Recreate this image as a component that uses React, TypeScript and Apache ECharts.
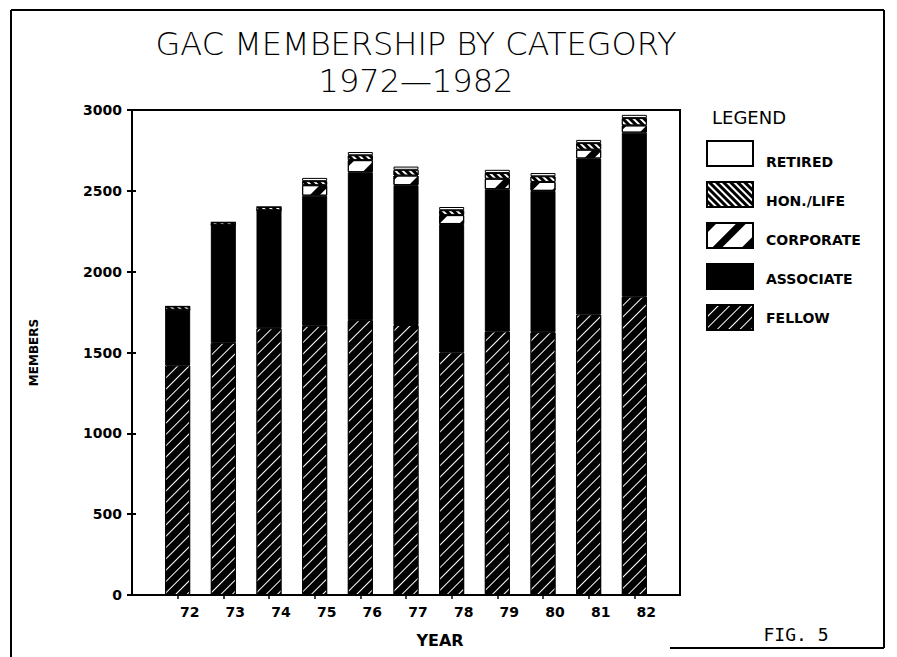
import React, { useEffect, useRef } from "react";
import * as echarts from "echarts";

const years = ["72", "73", "74", "75", "76", "77", "78", "79", "80", "81", "82"];
const fellow = [1420, 1560, 1650, 1665, 1700, 1670, 1500, 1630, 1625, 1735, 1845];
const associate = [345, 730, 730, 805, 915, 865, 795, 880, 875, 965, 1015];
const corporate = [0, 0, 0, 65, 75, 60, 55, 65, 55, 55, 45];
const honLife = [20, 15, 20, 25, 30, 35, 30, 35, 35, 40, 45];
const retired = [0, 0, 0, 20, 20, 20, 20, 20, 20, 20, 20];
const yTicks = [0, 500, 1000, 1500, 2000, 2500, 3000];
const legendNames = ["RETIRED", "HON./LIFE", "CORPORATE", "ASSOCIATE", "FELLOW"];

const BOLD = "'DejaVu Sans', sans-serif";

export default function App() {
  const ref = useRef<HTMLDivElement>(null);
  useEffect(() => {
    if (!ref.current) return;
    const chart = echarts.init(ref.current, undefined, { renderer: "svg" });
    const cats = ["", ...years, ""];
    const pad = (a: number[]) => [null, ...a, null];
    const base = {
      type: "bar",
      stack: "m",
      barWidth: 25,
      silent: true,
    };
    const legendTop = 140;
    const legendStep = 39;
    chart.setOption({
      animation: false,
      backgroundColor: "#fff",
      title: {
        text: "GAC MEMBERSHIP BY CATEGORY\n1972\u20141982",
        left: 411,
        top: 20,
        textAlign: "center",
        textStyle: {
          fontFamily: "'DejaVu Sans', sans-serif",
          fontWeight: 200,
          fontSize: 32,
          lineHeight: 37,
          color: "#000",
        },
      },
      grid: {
        left: 132,
        right: 217,
        top: 110,
        bottom: 62,
        show: true,
        borderColor: "#000",
        borderWidth: 2,
        backgroundColor: "transparent",
      },
      legend: {
        orient: "vertical",
        left: 706,
        top: legendTop,
        padding: 0,
        itemWidth: 46,
        itemHeight: 25,
        itemGap: legendStep - 25,
        icon: "rect",
        selectedMode: false,
        data: legendNames,
        formatter: () => "",
        itemStyle: { borderColor: "#000", borderWidth: 2 },
        textStyle: { fontSize: 1, padding: 0 },
      },
      xAxis: {
        type: "category",
        data: cats,
        boundaryGap: false,
        axisLine: { lineStyle: { color: "#000", width: 2 } },
        axisTick: {
          length: 4,
          interval: (i: number) => i > 0 && i < cats.length - 1,
          lineStyle: { color: "#000", width: 1.5 },
        },
        axisLabel: {
          color: "#000",
          fontFamily: BOLD,
          fontWeight: "bold",
          fontSize: 14,
          margin: 10,
          padding: [0, 0, 0, 24],
          interval: 0,
        },
        splitLine: { show: false },
      },
      yAxis: [
        {
          type: "value",
          min: yTicks[0],
          max: yTicks[yTicks.length - 1],
          interval: 500,
          name: "MEMBERS",
          nameLocation: "middle",
          nameGap: 92,
          nameTextStyle: {
            fontFamily: BOLD,
            fontWeight: "bold",
            fontSize: 12,
            color: "#000",
          },
          axisLine: { show: true, lineStyle: { color: "#000", width: 2 } },
          axisTick: { show: true, length: 5, lineStyle: { color: "#000", width: 2 } },
          axisLabel: {
            color: "#000",
            fontFamily: BOLD,
            fontWeight: "bold",
            fontSize: 14,
            margin: 10,
            formatter: (v: number) => String(v),
          },
          splitLine: { show: false },
        },
        {
          type: "value",
          position: "left",
          min: yTicks[0],
          max: yTicks[yTicks.length - 1],
          interval: 500,
          axisLine: { show: false },
          axisTick: { show: true, inside: true, length: 4, lineStyle: { color: "#000", width: 2 } },
          axisLabel: { show: false },
          splitLine: { show: false },
        },
      ],
      series: [
        {
          ...base,
          name: "FELLOW",
          data: pad(fellow),
          itemStyle: {
            color: "#000",
            borderColor: "#000",
            borderWidth: 1,
            decal: {
              symbol: "rect",
              symbolSize: 1,
              color: "#fff",
              dashArrayX: [1, 0],
              dashArrayY: [1, 7],
              rotation: -Math.PI / 4,
            },
          },
        },
        {
          ...base,
          name: "ASSOCIATE",
          data: pad(associate),
          itemStyle: { color: "#000", borderColor: "#000", borderWidth: 1 },
        },
        {
          ...base,
          name: "CORPORATE",
          data: pad(corporate),
          itemStyle: {
            color: "#fff",
            borderColor: "#000",
            borderWidth: 1,
            decal: {
              symbol: "rect",
              symbolSize: 1,
              color: "#000",
              dashArrayX: [1, 0],
              dashArrayY: [7, 14],
              rotation: -Math.PI / 4,
            },
          },
        },
        {
          ...base,
          name: "HON./LIFE",
          data: pad(honLife),
          itemStyle: {
            color: "#000",
            borderColor: "#000",
            borderWidth: 1,
            decal: {
              symbol: "rect",
              symbolSize: 1,
              color: "#fff",
              dashArrayX: [1, 0],
              dashArrayY: [1.5, 3],
              rotation: Math.PI / 4,
            },
          },
        },
        {
          ...base,
          name: "RETIRED",
          data: pad(retired),
          itemStyle: { color: "#fff", borderColor: "#000", borderWidth: 1 },
        },
      ],
      graphic: [
        { type: "line", shape: { x1: 11, y1: 10, x2: 11, y2: 657 }, style: { stroke: "#000", lineWidth: 2 } },
        { type: "line", shape: { x1: 11, y1: 10, x2: 884, y2: 10 }, style: { stroke: "#000", lineWidth: 2 } },
        { type: "line", shape: { x1: 884, y1: 10, x2: 884, y2: 648 }, style: { stroke: "#000", lineWidth: 2 } },
        { type: "line", shape: { x1: 670, y1: 648, x2: 884, y2: 648 }, style: { stroke: "#000", lineWidth: 2 } },
        {
          type: "text",
          left: 712,
          top: 108,
          style: {
            text: "LEGEND",
            font: "normal 18px 'DejaVu Sans', sans-serif",
            fill: "#000",
          },
        },
        ...legendNames.map((n, i) => ({
          type: "text",
          x: 766,
          y: legendTop + i * legendStep + 22,
          style: {
            text: n,
            font: "bold 14px 'DejaVu Sans', sans-serif",
            fill: "#000",
            verticalAlign: "middle",
          },
        })),
        {
          type: "text",
          x: 440,
          y: 640,
          style: {
            text: "YEAR",
            font: "bold 16px 'DejaVu Sans', sans-serif",
            fill: "#000",
            align: "center",
            verticalAlign: "middle",
          },
        },
        {
          type: "text",
          x: 796,
          y: 634,
          style: {
            text: "FIG. 5",
            font: "18px 'DejaVu Sans Mono', monospace",
            fill: "#000",
            align: "center",
            verticalAlign: "middle",
          },
        },
      ],
    });
    return () => chart.dispose();
  }, []);
  return (
    <div
      ref={ref}
      style={{ position: "absolute", left: 0, top: 0, width: 897, height: 657 }}
    />
  );
}
